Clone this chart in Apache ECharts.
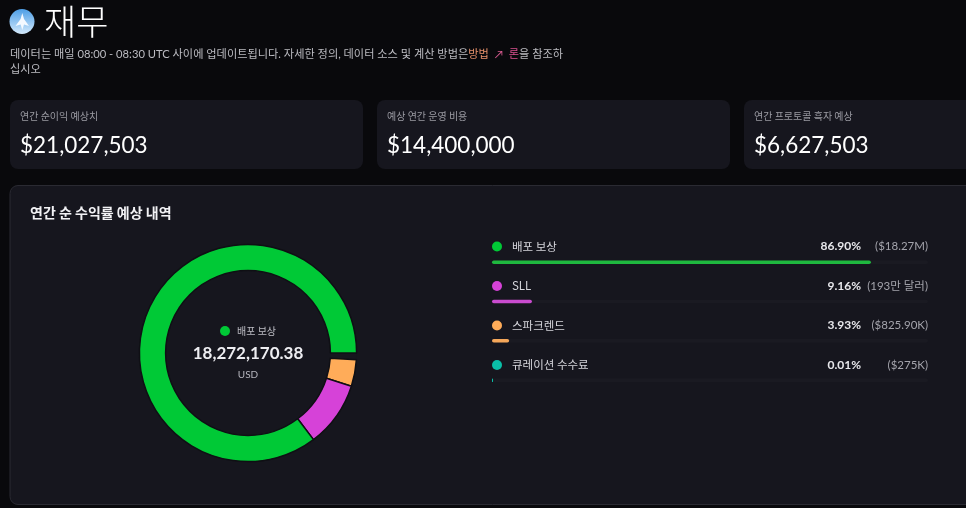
<!DOCTYPE html>
<html><head><meta charset="utf-8">
<style>html,body{margin:0;padding:0;background:#09090c;overflow:hidden}#c{width:966px;height:508px}</style>
<script src="https://cdn.jsdelivr.net/npm/echarts@6/dist/echarts.min.js"></script>
</head><body><div id="c"></div>
<script>
const categories = ['배포 보상','SLL','스파크렌드','큐레이션 수수료'];
const shares = [86.90, 9.16, 3.93, 0.01];
const ringShares = [85.3, 9.75, 3.95, 1.0]; // slice sizes
const amounts = ['($18.27M)','(193만 달러)','($825.90K)','($275K)'];
const colors = ['#00c936','#d642d8','#ffac59','#0abfa8'];
const barColors = ['#1fb83f','#c94bcf','#f5a75a','#0abfa8'];
const cardTitles = ['연간 순이익 예상치','예상 연간 운영 비용','연간 프로토콜 흑자 예상'];
const cardValues = ['$21,027,503','$14,400,000','$6,627,503'];
const centerValue = '18,272,170.38';

const LAT = 'Lato, "Noto Sans CJK KR", sans-serif';
const KR = '"Noto Sans CJK KR", sans-serif';
const CARD = '#16161e';
const rowTops = [246.5, 286, 325.5, 365];
const cardX = [10, 377, 744];

const g = [];
const rect = (x,y,w,h,r,fill,stroke) => g.push({type:'rect',z:-1,shape:{x,y,width:w,height:h,r},style:{fill,stroke:stroke||null,lineWidth:1},silent:true});
const text = (x,y,t,font,fill,align) => g.push({type:'text',x,y,silent:true,style:{text:t,font,fill,align:align||'left',verticalAlign:'middle'}});
const dot = (x,y,r,fill) => g.push({type:'circle',shape:{cx:x,cy:y,r},style:{fill},silent:true});

// logo
g.push({type:'circle',shape:{cx:22,cy:21.5,r:12.5},silent:true,style:{fill:{type:'linear',x:0,y:0,x2:0,y2:1,colorStops:[{offset:0,color:'#4d9ee6'},{offset:1,color:'#d3e9fb'}]}}});
g.push({type:'polygon',shape:{points:[[22.3,13],[24,19],[29,26],[24,24.5],[22.3,30],[20.6,24.5],[15.5,26],[20.6,19]]},style:{fill:'#f4f9ff'},silent:true});

text(44,22,'재무','300 35px '+KR,'#ffffff');
g.push({type:'text',x:10,y:54,silent:true,style:{
  text:'데이터는 매일 08:00 - 08:30 UTC 사이에 업데이트됩니다. 자세한 정의, 데이터 소스 및 계산 방법은{a|방법}  {b|↗}  {c|론}을 참조하',
  font:'400 11.2px '+LAT,fill:'#bcbcc2',verticalAlign:'middle',
  rich:{a:{fill:'#e8926b',font:'400 11.2px '+LAT},b:{fill:'#d85a90',font:'400 11.2px '+LAT},c:{fill:'#d8508f',font:'400 11.2px '+LAT}}}});
text(10,69,'십시오','400 11.2px '+KR,'#bcbcc2');

cardX.forEach((x,i)=>{
  rect(x,100,i===2?240:353,69,8,CARD);
  text(x+10,116.5,cardTitles[i],'400 10px '+KR,'#9a9aa2');
  text(x+10,145.5,cardValues[i],'400 22.5px '+LAT,'#ffffff');
});
rect(10,185.5,980,319,8,CARD,'#2a2a32');
text(30,213,'연간 순 수익률 예상 내역','700 14px '+KR,'#f2f2f5');

// centre of donut
dot(225,331,5,colors[0]);
text(237,331,categories[0],'400 10px '+KR,'#bdbdc4');
text(248,353.5,centerValue,'700 17px '+LAT,'#eeeef2','center');
text(248,375,'USD','400 10px '+LAT,'#b4b4bc','center');

// legend rows
categories.forEach((c,i)=>{
  const y=rowTops[i];
  dot(497,y,5,colors[i]);
  text(512,y,c,'400 11.5px '+KR,'#d6d6dc');
  text(861,y,shares[i].toFixed(2)+'%','700 12px '+LAT,'#e8e8ec','right');
  text(928,y,amounts[i],'400 11.5px '+LAT,'#a4a4ac','right');
});

const chart = echarts.init(document.getElementById('c'),null,{renderer:'canvas'});
const sliceBorder = {borderColor:'#0f0f14',borderWidth:1.5};
chart.setOption({
  backgroundColor:'#09090c',
  animation:false,
  grid:{left:492,top:242.6,width:436,height:157.2,containLabel:false},
  xAxis:{type:'value',min:0,max:100,show:false},
  yAxis:{type:'category',inverse:true,data:categories,show:false},
  series:[
    {type:'bar',data:shares.map((v,i)=>({value:v,itemStyle:{color:barColors[i]}})),barWidth:3.5,
     barMinHeight:1,showBackground:true,backgroundStyle:{color:'#1a1a22',borderRadius:2},itemStyle:{borderRadius:2},silent:true,z:3},
    {type:'pie',center:[248,353],radius:[82.4,108.6],startAngle:360,clockwise:true,
     label:{show:false},labelLine:{show:false},silent:true,z:3,
     data:[
       {name:categories[3],value:ringShares[3],itemStyle:{color:CARD,borderWidth:0}},
       {name:categories[2],value:ringShares[2],itemStyle:{color:colors[2],...sliceBorder}},
       {name:categories[1],value:ringShares[1],itemStyle:{color:colors[1],...sliceBorder}},
       {name:categories[0],value:ringShares[0],itemStyle:{color:colors[0],...sliceBorder}}
     ]}
  ],
  graphic:{elements:g}
});
</script></body></html>
